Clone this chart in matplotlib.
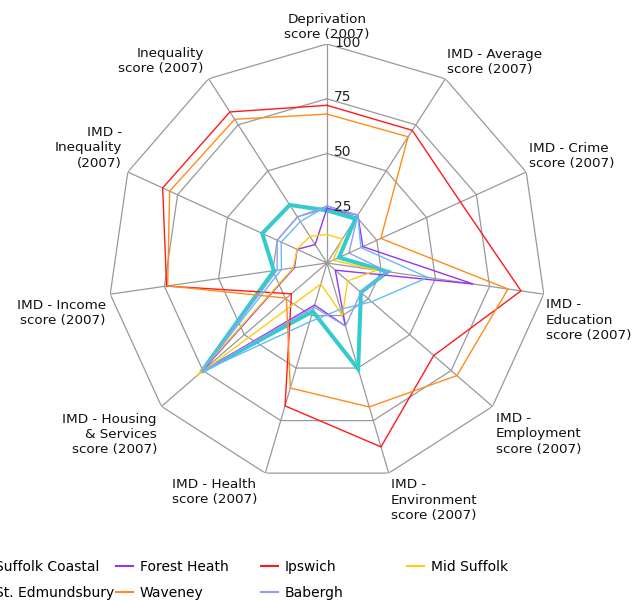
import numpy as np
import matplotlib
matplotlib.use("Agg")
import matplotlib.pyplot as plt
from matplotlib.lines import Line2D

# axes, clockwise from the top
categories = [
    "Deprivation\nscore (2007)",
    "IMD - Average\nscore (2007)",
    "IMD - Crime\nscore (2007)",
    "IMD -\nEducation\nscore (2007)",
    "IMD -\nEmployment\nscore (2007)",
    "IMD -\nEnvironment\nscore (2007)",
    "IMD - Health\nscore (2007)",
    "IMD - Housing\n& Services\nscore (2007)",
    "IMD - Income\nscore (2007)",
    "IMD -\nInequality\n(2007)",
    "Inequality\nscore (2007)",
]

# values (0-100 scale)
suffolk_coastal = [24, 24, 6, 28, 20.5, 50.5, 23, 76, 24.5, 32.5, 31.5]
forest_heath = [25, 26, 18, 67.5, 5, 30, 20, 76, 15, 15, 10]
ipswich = [72, 72, 67, 89.5, 64.5, 87.5, 68, 21.5, 74, 82.5, 82]
mid_suffolk = [13, 13, 3, 23, 12.5, 25, 10, 79, 15.5, 15, 14.5]
st_edmundsbury = [26, 26, 17, 46.5, 27, 22, 28, 76, 21, 23, 22.5]
waveney = [68, 68.5, 27, 83.5, 78.5, 68.5, 59.5, 24.5, 73.5, 79, 78]
babergh = [26, 26, 11, 28, 20.5, 30, 21, 76, 23, 25, 25]

series_names = ["Suffolk Coastal", "Forest Heath", "Ipswich", "Mid Suffolk",
                "St. Edmundsbury", "Waveney", "Babergh"]
series_values = [suffolk_coastal, forest_heath, ipswich, mid_suffolk,
                 st_edmundsbury, waveney, babergh]
series_colors = ["#33CCCC", "#9933EE", "#FF1A1A", "#FFCC11",
                 "#66BBF5", "#FF8C1A", "#8DA2EE"]
series_widths = [2.9, 1.0, 1.0, 1.0, 1.0, 1.0, 1.0]

rings = [25, 50, 75, 100]

W, H = 636, 600
fig = plt.figure(figsize=(W / 100, H / 100), dpi=100)

# polar axes centred at (327, 263) px with 100 -> 219 px
cx, cy, rad = 327, 263, 219
ax = fig.add_axes([(cx - rad) / W, 1 - (cy + rad) / H, 2 * rad / W, 2 * rad / H],
                  projection="polar")
ax.set_theta_zero_location("N")
ax.set_theta_direction(-1)
ax.set_ylim(0, 100)
ax.set_xticks([])
ax.set_yticks([])
ax.grid(False)
ax.spines["polar"].set_visible(False)
ax.patch.set_alpha(0)

n = len(categories)
angles = np.arange(n) * 2 * np.pi / n
closed = np.append(angles, angles[0])

grid_col = "#999999"
for r in rings:
    ax.plot(closed, [r] * (n + 1), color=grid_col, lw=0.9, zorder=1)
for a in angles:
    ax.plot([a, a], [0, 100], color=grid_col, lw=0.9, zorder=1)

for r in rings:
    ax.annotate(str(r), xy=(0, r), xytext=(5, 1), textcoords="offset points",
                ha="left", va="center", fontsize=10, color="#222222", zorder=5)

handles = []
for name, vals, col, lw in zip(series_names, series_values, series_colors, series_widths):
    v = np.append(vals, vals[0])
    ax.plot(closed, v, color=col, lw=lw, zorder=3 if lw < 2 else 2,
            solid_joinstyle="miter")
    handles.append(Line2D([], [], color=col, lw=1.5))

# axis labels: (x px, y px, ha)
label_pos = [
    (327, 27, "center"),
    (447, 62, "left"),
    (529, 156, "left"),
    (546, 320, "left"),
    (496, 434, "left"),
    (391, 500, "left"),
    (172, 492, "left"),
    (157, 434, "right"),
    (106, 313, "right"),
    (122, 148, "right"),
    (204, 61, "right"),
]
for text, (x, y, ha) in zip(categories, label_pos):
    fig.text(x / W, 1 - y / H, text, ha=ha, va="center", multialignment=ha,
             fontsize=9.7, color="#111111", linespacing=1.2)

# legend laid out as a 4-column grid; first column is clipped by the figure edge
columns = [[0, 4], [1, 5], [2, 6], [3]]
col_x = [-29, 116, 261, 407]
for idx, x in zip(columns, col_x):
    fig.legend([handles[i] for i in idx], [series_names[i] for i in idx],
               loc="upper left", bbox_to_anchor=(x / W, 1 - 560 / H),
               frameon=False, fontsize=10, handlelength=1.25, handletextpad=0.45,
               labelspacing=0.85, borderpad=0, borderaxespad=0)

fig.savefig("out.png", dpi=100)
